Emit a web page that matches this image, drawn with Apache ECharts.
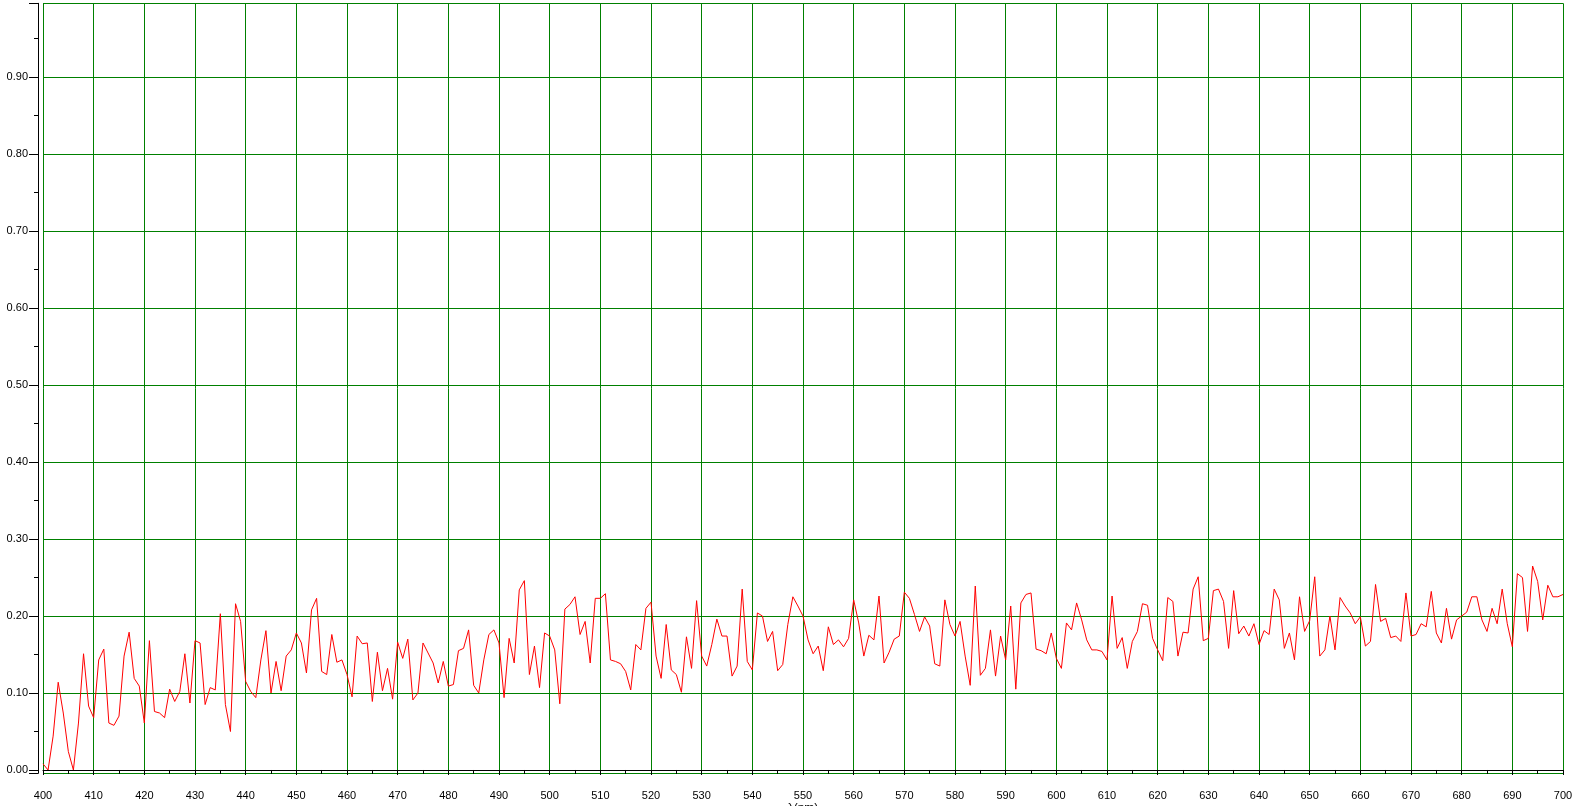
<!DOCTYPE html>
<html>
<head>
<meta charset="utf-8">
<script src="https://cdn.jsdelivr.net/npm/echarts@6/dist/echarts.min.js"></script>
<style>
html,body{margin:0;padding:0;background:#fff;}
#chart{width:1581px;height:806px;}
</style>
</head>
<body>
<div id="chart"></div>
<script>
// wavelength sampling (nm)
const startNm = 400;
const stepNm = 1;
// series values, per wavelength
const values400to449 = [0.008,0.000,0.044,0.114,0.074,0.024,0.000,0.061,0.151,0.083,
  0.068,0.143,0.157,0.061,0.058,0.070,0.148,0.179,0.119,0.109,
  0.061,0.168,0.076,0.074,0.068,0.105,0.089,0.102,0.151,0.087,
  0.168,0.165,0.085,0.107,0.104,0.203,0.085,0.050,0.216,0.193,
  0.115,0.102,0.094,0.143,0.181,0.100,0.141,0.103,0.148,0.156];
const values450to499 = [0.178,0.165,0.126,0.208,0.223,0.128,0.124,0.176,0.140,0.143,
  0.124,0.095,0.174,0.164,0.165,0.089,0.153,0.103,0.132,0.092,
  0.166,0.145,0.170,0.091,0.100,0.165,0.152,0.139,0.113,0.141,
  0.109,0.111,0.155,0.158,0.182,0.110,0.100,0.143,0.176,0.182,
  0.165,0.094,0.171,0.139,0.234,0.246,0.124,0.161,0.107,0.178];
const values500to549 = [0.174,0.156,0.086,0.209,0.215,0.225,0.176,0.193,0.139,0.223,
  0.223,0.229,0.143,0.141,0.138,0.128,0.104,0.163,0.156,0.210,
  0.218,0.148,0.119,0.189,0.130,0.124,0.101,0.173,0.132,0.220,
  0.148,0.135,0.163,0.196,0.174,0.174,0.122,0.135,0.235,0.141,
  0.130,0.204,0.200,0.167,0.180,0.129,0.137,0.189,0.225,0.213];
const values550to599 = [0.200,0.169,0.151,0.161,0.129,0.186,0.163,0.169,0.160,0.171,
  0.221,0.191,0.148,0.175,0.169,0.226,0.139,0.153,0.170,0.174,
  0.231,0.223,0.202,0.180,0.199,0.187,0.138,0.135,0.221,0.189,
  0.174,0.193,0.148,0.110,0.239,0.123,0.132,0.182,0.122,0.174,
  0.143,0.213,0.105,0.217,0.228,0.230,0.157,0.155,0.151,0.178];
const values600to649 = [0.145,0.132,0.191,0.182,0.217,0.195,0.169,0.156,0.156,0.154,
  0.143,0.226,0.158,0.172,0.132,0.167,0.180,0.216,0.214,0.171,
  0.156,0.142,0.224,0.219,0.148,0.179,0.178,0.235,0.251,0.168,
  0.171,0.233,0.235,0.219,0.158,0.233,0.177,0.187,0.174,0.190,
  0.163,0.181,0.176,0.235,0.221,0.158,0.178,0.143,0.225,0.180];
const values650to700 = [0.194,0.251,0.148,0.156,0.200,0.156,0.224,0.213,0.204,0.190,
  0.199,0.161,0.167,0.241,0.193,0.197,0.172,0.174,0.167,0.230,
  0.174,0.176,0.190,0.186,0.232,0.178,0.165,0.210,0.170,0.195,
  0.200,0.205,0.225,0.225,0.195,0.180,0.210,0.190,0.235,0.190,
  0.160,0.255,0.250,0.180,0.265,0.245,0.195,0.240,0.225,0.225,
  0.228];

const allValues = [].concat(values400to449, values450to499, values500to549,
  values550to599, values600to649, values650to700);
const seriesData = allValues.map((v, i) => [startNm + i * stepNm, v]);

const gridGreen = '#008000';
const chart = echarts.init(document.getElementById('chart'), null, {renderer: 'canvas'});
chart.setOption({
  animation: false,
  backgroundColor: '#ffffff',
  grid: {left: 43, right: 18, top: 3.3, bottom: 32.7, containLabel: false, outerBoundsMode: 'none'},
  xAxis: {
    type: 'value',
    min: 400, max: 700, interval: 10,
    offset: 5,
    name: 'λ(nm)',
    nameLocation: 'middle',
    nameGap: 24,
    nameMoveOverlap: false,
    nameTextStyle: {color: '#000', fontFamily: 'Liberation Sans', fontSize: 12, verticalAlign: 'top'},
    axisLine: {show: true, lineStyle: {color: '#000', width: 1}},
    axisTick: {show: true, length: 5, lineStyle: {color: '#000'}},
    minorTick: {show: true, splitNumber: 2, length: 4, lineStyle: {color: '#000'}},
    axisLabel: {color: '#000', fontFamily: 'Liberation Sans', fontSize: 11, margin: 12},
    splitLine: {show: true, lineStyle: {color: gridGreen, width: 1}}
  },
  yAxis: {
    type: 'value',
    min: -0.0043, max: 0.996,
    splitNumber: 10,
    offset: 5,
    axisLine: {show: true, onZero: false, lineStyle: {color: '#000', width: 1}},
    axisTick: {show: true, length: 9, lineStyle: {color: '#000'}},
    minorTick: {show: true, splitNumber: 2, length: 4, lineStyle: {color: '#000'}},
    axisLabel: {
      color: '#000', fontFamily: 'Liberation Sans', fontSize: 11, margin: 10,
      formatter: v => (v < -0.0001 || v > 0.95) ? '' : v.toFixed(2)
    },
    splitLine: {show: true, lineStyle: {color: gridGreen, width: 1}}
  },
  series: [{
    type: 'line',
    data: seriesData,
    showSymbol: false,
    symbol: 'none',
    smooth: false,
    lineStyle: {color: '#ff0000', width: 1},
    itemStyle: {color: '#ff0000'}
  }]
});
</script>
</body>
</html>
